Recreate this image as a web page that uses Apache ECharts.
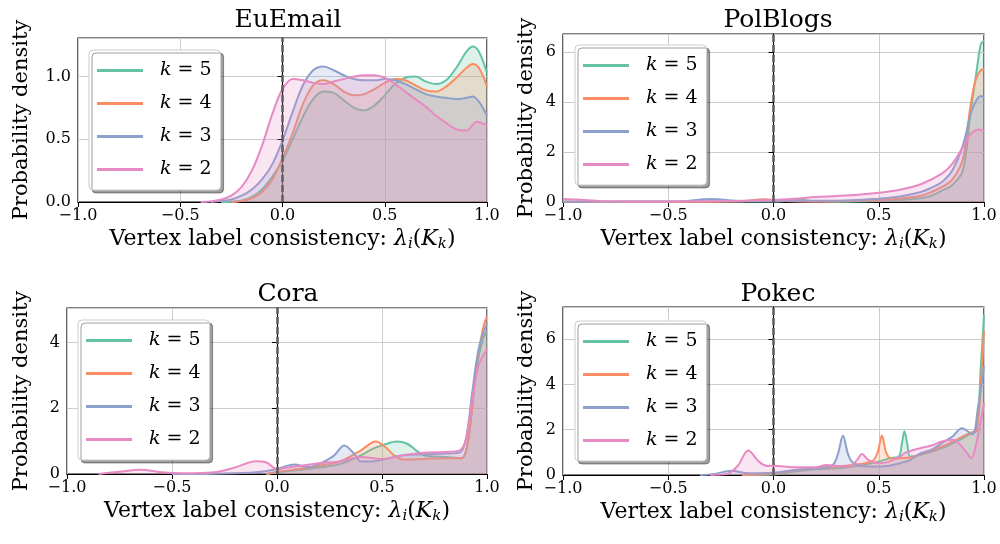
<!DOCTYPE html>
<html><head><meta charset="utf-8">
<script src="https://cdn.jsdelivr.net/npm/echarts@6/dist/echarts.min.js"></script>
<style>html,body{margin:0;padding:0;background:#fff}#c{width:1000px;height:544px}</style>
</head><body><div id="c"></div>
<script>
// ---- data ----
const panelTitles = ['EuEmail', 'PolBlogs', 'Cora', 'Pokec'];
const seriesNames = ['k = 5', 'k = 4', 'k = 3', 'k = 2'];
const colors = ['#66c2a5', '#fc8d62', '#8da0cb', '#e78ac3'];
const yMax = [1.307, 6.71, 5.05, 7.42];
const yStep = [0.5, 2, 2, 2];
const refX = 0;

// EuEmail
const euK5 = [[-0.3,0],[-0.2,0.01],[-0.15,0.04],[-0.1,0.1],[-0.05,0.2],[0,0.33],[0.05,0.5],[0.1,0.68],[0.15,0.82],[0.2,0.88],[0.25,0.87],[0.3,0.81],[0.35,0.75],[0.4,0.73],[0.45,0.77],[0.5,0.85],[0.55,0.94],[0.6,0.99],[0.65,1.0],[0.7,0.96],[0.75,0.94],[0.8,0.97],[0.85,1.07],[0.9,1.2],[0.93,1.24],[0.96,1.2],[1.0,1.03]];
const euK4 = [[-0.25,0],[-0.2,0.01],[-0.15,0.03],[-0.1,0.08],[-0.05,0.18],[0,0.35],[0.05,0.55],[0.1,0.78],[0.15,0.93],[0.2,0.97],[0.25,0.94],[0.3,0.88],[0.35,0.85],[0.4,0.86],[0.45,0.9],[0.5,0.95],[0.55,0.98],[0.6,0.97],[0.65,0.93],[0.7,0.89],[0.75,0.88],[0.8,0.92],[0.85,0.99],[0.9,1.07],[0.93,1.1],[0.96,1.07],[1.0,0.92]];
const euK3 = [[-0.35,0],[-0.3,0.01],[-0.25,0.02],[-0.2,0.05],[-0.15,0.1],[-0.1,0.18],[-0.05,0.3],[0,0.49],[0.05,0.72],[0.1,0.93],[0.15,1.05],[0.2,1.08],[0.25,1.05],[0.3,1.01],[0.35,0.98],[0.4,0.97],[0.45,0.97],[0.5,0.98],[0.55,0.97],[0.6,0.94],[0.65,0.9],[0.7,0.86],[0.75,0.84],[0.8,0.83],[0.85,0.82],[0.9,0.83],[0.93,0.84],[0.96,0.8],[1.0,0.69]];
const euK2 = [[-0.4,0],[-0.35,0.005],[-0.3,0.02],[-0.25,0.05],[-0.2,0.12],[-0.15,0.25],[-0.1,0.45],[-0.05,0.7],[0,0.9],[0.05,0.98],[0.1,0.97],[0.15,0.95],[0.2,0.94],[0.25,0.96],[0.3,0.98],[0.35,1.0],[0.4,1.01],[0.45,1.01],[0.5,0.99],[0.55,0.94],[0.6,0.88],[0.65,0.82],[0.7,0.76],[0.75,0.69],[0.8,0.63],[0.85,0.58],[0.9,0.57],[0.95,0.64],[1.0,0.61]];

// PolBlogs
const pbK5 = [[-1,0.01],[-0.5,0.01],[-0.2,0.02],[0,0.02],[0.07,0.05],[0.13,0.09],[0.19,0.04],[0.3,0.01],[0.5,0.04],[0.6,0.09],[0.7,0.15],[0.75,0.25],[0.8,0.45],[0.85,0.68],[0.9,1.27],[0.935,3.5],[0.966,5.3],[0.985,6.3],[1.0,6.44]];
const pbK4 = [[-1,0.01],[-0.5,0.01],[-0.15,0.03],[-0.05,0.11],[0.05,0.04],[0.2,0.01],[0.5,0.08],[0.6,0.14],[0.7,0.25],[0.75,0.4],[0.8,0.6],[0.85,0.9],[0.9,1.73],[0.935,3.8],[0.96,4.87],[0.985,5.27],[1.0,5.3]];
const pbK3 = [[-1,0.01],[-0.45,0.03],[-0.3,0.12],[-0.15,0.04],[0,0.05],[0.3,0.05],[0.5,0.13],[0.6,0.22],[0.7,0.4],[0.75,0.57],[0.8,0.8],[0.85,1.27],[0.9,2.27],[0.935,3.45],[0.96,4.0],[0.985,4.23],[1.0,4.15]];
const pbK2 = [[-1,0.12],[-0.9,0.08],[-0.8,0.03],[-0.5,0.02],[-0.2,0.04],[0,0.08],[0.1,0.13],[0.2,0.2],[0.3,0.24],[0.4,0.29],[0.5,0.37],[0.6,0.49],[0.7,0.71],[0.8,1.13],[0.85,1.53],[0.9,2.2],[0.94,2.75],[0.98,2.9],[1.0,2.82]];

// Cora
const coK5 = [[-0.05,0],[0,0.05],[0.1,0.12],[0.2,0.2],[0.3,0.3],[0.4,0.57],[0.45,0.75],[0.5,0.87],[0.57,0.99],[0.62,0.92],[0.67,0.68],[0.7,0.57],[0.75,0.53],[0.8,0.52],[0.88,0.48],[0.9,0.7],[0.92,1.47],[0.95,3.2],[0.98,4.1],[1.0,4.35]];
const coK4 = [[-0.05,0],[0,0.06],[0.1,0.15],[0.2,0.25],[0.3,0.38],[0.4,0.72],[0.47,0.99],[0.52,0.8],[0.56,0.55],[0.6,0.44],[0.7,0.46],[0.8,0.48],[0.88,0.48],[0.9,0.7],[0.92,1.47],[0.95,3.3],[0.98,4.4],[1.0,4.8]];
const coK3 = [[-0.5,0],[-0.3,0.01],[-0.1,0.05],[0,0.15],[0.08,0.29],[0.15,0.21],[0.2,0.3],[0.27,0.55],[0.32,0.87],[0.37,0.6],[0.4,0.38],[0.45,0.38],[0.5,0.43],[0.6,0.57],[0.7,0.6],[0.8,0.62],[0.87,0.65],[0.9,1.07],[0.93,2.5],[0.96,3.8],[1.0,4.6]];
const coK2 = [[-0.85,0],[-0.75,0.07],[-0.65,0.13],[-0.55,0.05],[-0.45,0.02],[-0.3,0.05],[-0.2,0.2],[-0.1,0.39],[-0.05,0.35],[0,0.15],[0.05,0.2],[0.1,0.24],[0.2,0.33],[0.3,0.38],[0.4,0.52],[0.5,0.46],[0.6,0.57],[0.7,0.65],[0.8,0.67],[0.87,0.72],[0.9,1.07],[0.93,2.28],[0.96,3.3],[1.0,3.8]];

// Pokec
const pkK5 = [[-0.15,0],[0,0.02],[0.1,0.15],[0.2,0.25],[0.3,0.3],[0.4,0.4],[0.5,0.59],[0.55,0.74],[0.595,0.82],[0.61,1.4],[0.622,1.93],[0.635,1.4],[0.65,0.82],[0.7,0.89],[0.8,1.19],[0.9,1.63],[0.94,1.85],[0.965,1.95],[0.985,4.8],[1.0,7.07]];
const pkK4 = [[-0.15,0],[0,0.05],[0.1,0.22],[0.2,0.3],[0.3,0.37],[0.4,0.47],[0.47,0.62],[0.495,1.0],[0.515,1.75],[0.535,1.0],[0.56,0.72],[0.6,0.74],[0.65,0.77],[0.7,0.93],[0.8,1.26],[0.9,1.7],[0.94,1.88],[0.965,2.0],[0.985,4.0],[1.0,6.37]];
const pkK3 = [[-0.35,0],[-0.28,0.05],[-0.2,0.19],[-0.12,0.08],[0,0.1],[0.1,0.22],[0.2,0.3],[0.28,0.44],[0.305,0.9],[0.33,1.73],[0.355,0.9],[0.38,0.52],[0.45,0.37],[0.55,0.41],[0.6,0.52],[0.65,0.67],[0.7,0.96],[0.75,1.11],[0.8,1.41],[0.85,1.7],[0.895,2.07],[0.945,1.8],[0.97,2.89],[1.0,4.81]];
const pkK2 = [[-0.3,0],[-0.22,0.05],[-0.17,0.4],[-0.12,1.08],[-0.07,0.6],[-0.03,0.4],[0,0.41],[0.1,0.34],[0.2,0.34],[0.25,0.44],[0.3,0.4],[0.36,0.37],[0.4,0.7],[0.42,0.93],[0.45,0.67],[0.5,0.52],[0.55,0.59],[0.6,0.81],[0.63,1.0],[0.7,1.19],[0.75,1.3],[0.8,1.48],[0.85,1.56],[0.88,1.4],[0.92,0.96],[0.94,0.74],[0.96,1.26],[0.98,2.15],[1.0,3.18]];

const panelData = [[euK5, euK4, euK3, euK2], [pbK5, pbK4, pbK3, pbK2], [coK5, coK4, coK3, coK2], [pkK5, pkK4, pkK3, pkK2]];

// ---- layout ----
const FONT = 'DejaVu Serif';
const grids = [
  {left: 78, top: 38, width: 409, height: 164},
  {left: 563, top: 34, width: 421, height: 168},
  {left: 67, top: 308, width: 420, height: 166},
  {left: 563, top: 307, width: 421, height: 168}
];
const titlePos = [[283, 3], [773, 3], [283, 277], [773, 277]];
const yNameGap = [46, 26, 35, 26];
const legendPos = [[89, 50], [575, 45], [78, 320], [575, 321]];

function fmtX(v) { return (v < 0 ? '\u2212' : '') + Math.abs(v).toFixed(1); }

const option = {
  backgroundColor: '#fff',
  animation: false,
  title: panelTitles.map((t, i) => ({
    text: t, left: titlePos[i][0], top: titlePos[i][1], textAlign: 'center',
    textStyle: {fontFamily: FONT, fontSize: 25, fontWeight: 'normal', color: '#000'}
  })),
  grid: grids.map(g => Object.assign({show: true, borderColor: '#000', borderWidth: 1.2, backgroundColor: 'transparent'}, g)),
  xAxis: grids.map((g, i) => ({
    type: 'value', gridIndex: i, min: -1, max: 1, interval: 0.5,
    name: 'Vertex label consistency: {it|λ}{sub|i}({it|K}{sub|k})',
    nameLocation: 'middle', nameGap: 25,
    nameTextStyle: {fontFamily: FONT, fontSize: 22, color: '#000',
      rich: {it: {fontFamily: FONT, fontSize: 22, fontStyle: 'italic', color: '#000'},
             sub: {fontFamily: FONT, fontSize: 15, fontStyle: 'italic', color: '#000', padding: [10, 0, 0, 0]}}},
    axisLine: {show: true, lineStyle: {color: '#000', width: 1.2}},
    axisTick: {show: true, inside: false, length: 5, lineStyle: {color: '#000', width: 1}},
    axisLabel: {fontFamily: FONT, fontSize: 16, color: '#000', margin: 6, formatter: fmtX},
    splitLine: {show: true, lineStyle: {color: '#cccccc', width: 1}}
  })),
  yAxis: grids.map((g, i) => ({
    type: 'value', gridIndex: i, min: 0, max: yMax[i], interval: yStep[i],
    name: 'Probability density', nameLocation: 'middle', nameGap: yNameGap[i],
    nameTextStyle: {fontFamily: FONT, fontSize: 21, color: '#000'},
    axisLine: {show: true, lineStyle: {color: '#000', width: 1.2}},
    axisTick: {show: true, inside: false, length: 5, lineStyle: {color: '#000', width: 1}},
    axisLabel: {fontFamily: FONT, fontSize: 16, color: '#000', margin: 7, showMaxLabel: false,
      formatter: v => (i === 0 ? v.toFixed(1) : String(Math.round(v)))},
    splitLine: {show: true, lineStyle: {color: '#cccccc', width: 1}}
  })),
  legend: legendPos.map((p, i) => ({
    orient: 'vertical', left: p[0], top: p[1],
    data: seriesNames.map(n => ({name: n, icon: 'rect'})),
    itemWidth: 46, itemHeight: 3, itemGap: 12,
    padding: [10, 9, 10, 8],
    backgroundColor: '#ffffff', borderColor: '#cccccc', borderWidth: 1, borderRadius: 4,
    shadowColor: 'rgba(0,0,0,0.38)', shadowBlur: 0, shadowOffsetX: 3, shadowOffsetY: 3,
    selectedMode: false,
    formatter: n => '{it|k} = ' + n.slice(-1),
    textStyle: {fontFamily: FONT, fontSize: 19, color: '#000', padding: [0, 0, 0, 12], lineHeight: 21,
      rich: {it: {fontFamily: FONT, fontSize: 19, fontStyle: 'italic', color: '#000', lineHeight: 21}}}
  })),
  series: []
};

panelData.forEach((arrs, pi) => {
  arrs.forEach((d, si) => {
    option.series.push({
      type: 'line', name: seriesNames[si], xAxisIndex: pi, yAxisIndex: pi,
      data: d, smooth: 0.35, symbol: 'none',
      lineStyle: {color: colors[si], width: 2},
      itemStyle: {color: colors[si]},
      areaStyle: {color: colors[si], opacity: 0.22},
      z: 2 + si
    });
  });
  // reference line holder (no data of its own)
  option.series.push({
    type: 'line', name: 'ref' + pi, xAxisIndex: pi, yAxisIndex: pi, data: [], z: 20,
    markLine: {
      symbol: ['none', 'none'], silent: true, animation: false, z: 20,
      label: {show: false}, emphasis: {disabled: true},
      lineStyle: {color: '#5f5f5f', type: [7, 3], width: 2.5, opacity: 1},
      data: [{xAxis: refX, lineStyle: {color: '#5f5f5f', type: [7, 3], width: 2.5}}]
    }
  });
});

const chart = echarts.init(document.getElementById('c'), null, {renderer: 'canvas'});
chart.setOption(option);
</script>
</body></html>
